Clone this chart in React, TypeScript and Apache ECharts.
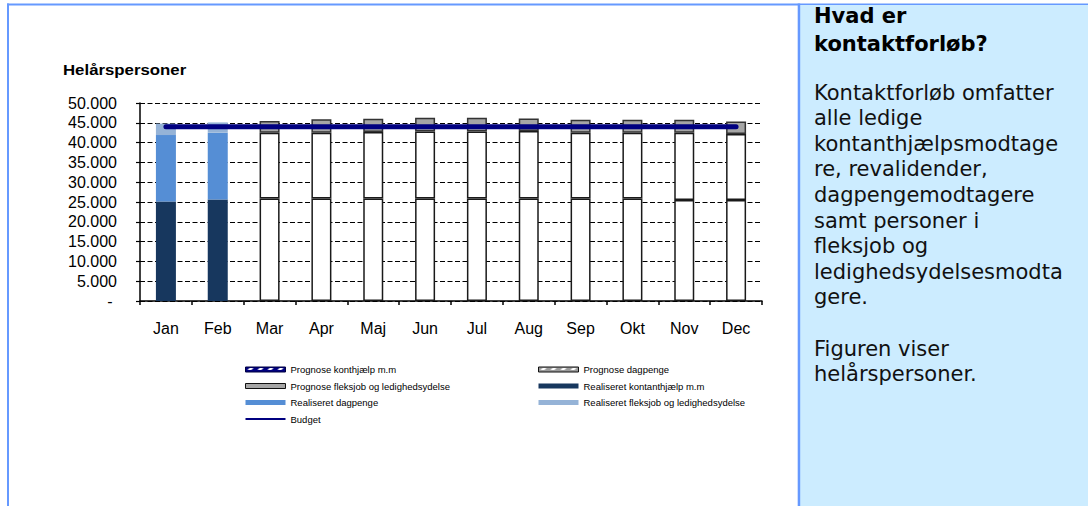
import React, { useEffect, useRef } from 'react';
import * as echarts from 'echarts';

const months = ['Jan', 'Feb', 'Mar', 'Apr', 'Maj', 'Jun', 'Jul', 'Aug', 'Sep', 'Okt', 'Nov', 'Dec'];

const realKontant = [25100, 25600, null, null, null, null, null, null, null, null, null, null];
const realDagpenge = [16800, 16900, null, null, null, null, null, null, null, null, null, null];
const realFleks = [2900, 2600, null, null, null, null, null, null, null, null, null, null];

const progKontant = [null, null, 25900, 25900, 25900, 25900, 25900, 25900, 25900, 25900, 25500, 25500];
const progDagpenge = [null, null, 16600, 16600, 16800, 16900, 16900, 17000, 16600, 16600, 17000, 16700];
const progFleks = [null, null, 2950, 3400, 3300, 3500, 3500, 3200, 3300, 3300, 3300, 3100];

const budget = [44000, 44000, 44000, 44000, 44000, 44000, 44000, 44000, 44000, 44000, 44000, 44000];

const yMin = 0;
const yMax = 50000;
const yStep = 5000;

const chartTitle = 'Helårspersoner';
const panelTitle = ['Hvad er', 'kontaktforløb?'];
const panelBody = [
  'Kontaktforløb omfatter',
  'alle ledige',
  'kontanthjælpsmodtage',
  're, revalidender,',
  'dagpengemodtagere',
  'samt personer i',
  'fleksjob og',
  'ledighedsydelsesmodta',
  'gere.',
  '',
  'Figuren viser',
  'helårspersoner.',
];

const N_PK = 'Prognose konthjælp m.m';
const N_PD = 'Prognose dagpenge';
const N_PF = 'Prognose fleksjob og ledighedsydelse';
const N_RK = 'Realiseret kontanthjælp m.m';
const N_RD = 'Realiseret dagpenge';
const N_RF = 'Realiseret fleksjob og ledighedsydelse';
const N_B = 'Budget';

const ARIAL = '"Liberation Sans", Arial, sans-serif';
const VERDANA = '"DejaVu Sans", Verdana, sans-serif';

function stripe(bg: string, fg: string) {
  const c = document.createElement('canvas');
  c.width = 10;
  c.height = 4;
  const g = c.getContext('2d')!;
  g.fillStyle = bg;
  g.fillRect(0, 0, 10, 4);
  g.fillStyle = fg;
  g.beginPath();
  g.moveTo(2, 3);
  g.lineTo(4, 1);
  g.lineTo(8, 1);
  g.lineTo(6, 3);
  g.closePath();
  g.fill();
  return { image: c, repeat: 'repeat' } as any;
}

function fmt(v: number) {
  if (v === 0) return '- ';
  return String(v).replace(/\B(?=(\d{3})+(?!\d))/g, '.');
}

export default function App() {
  const ref = useRef<HTMLDivElement>(null);

  useEffect(() => {
    if (!ref.current) return;
    const chart = echarts.init(ref.current, null, { renderer: 'svg' });

    const legendText = { fontSize: 9.5, fontFamily: ARIAL, color: '#000', lineHeight: 11 };
    const legendBase = {
      orient: 'vertical' as const,
      top: 364,
      itemWidth: 40,
      itemHeight: 5,
      itemGap: 5.5,
      selectedMode: false,
      textStyle: legendText,
      padding: 0,
    };

    const graphics: any[] = [
      { type: 'rect', shape: { x: 7, y: 3.5, width: 1081, height: 2 }, style: { fill: '#6699FF' } },
      { type: 'rect', shape: { x: 7, y: 3.5, width: 2, height: 503 }, style: { fill: '#6699FF' } },
      { type: 'rect', shape: { x: 800, y: 5, width: 288, height: 501 }, style: { fill: '#CCECFF' } },
      { type: 'rect', shape: { x: 797.7, y: 3.5, width: 2.5, height: 503 }, style: { fill: '#6699FF' } },
      {
        type: 'text',
        x: 63,
        y: 70,
        scaleX: 1.2,
        style: { text: chartTitle, font: `bold 14px ${ARIAL}`, fill: '#000', textVerticalAlign: 'middle' },
      },
    ];
    panelTitle.forEach((t, i) => {
      graphics.push({
        type: 'text',
        x: 814,
        y: 16 + i * 28,
        style: { text: t, font: `bold 21px ${VERDANA}`, fill: '#000', textVerticalAlign: 'middle' },
      });
    });
    panelBody.forEach((t, i) => {
      if (!t) return;
      graphics.push({
        type: 'text',
        x: 814,
        y: 92.5 + i * 25.6,
        style: { text: t, font: `21px ${VERDANA}`, fill: '#111', textVerticalAlign: 'middle' },
      });
    });

    const progBorder = { color: '#fff', borderColor: '#1a1a1a', borderWidth: 1.5 };

    chart.setOption({
      animation: false,
      backgroundColor: '#fff',
      grid: { left: 140, right: 326, top: 103, bottom: 205, containLabel: false },
      xAxis: {
        type: 'category',
        data: months,
        axisLine: { lineStyle: { color: '#000', width: 1.5 } },
        axisTick: { show: true, length: 4, lineStyle: { color: '#000', width: 1.5 } },
        axisLabel: { fontSize: 16, color: '#000', margin: 19, fontFamily: ARIAL },
        splitLine: { show: false },
      },
      yAxis: {
        type: 'value',
        min: yMin,
        max: yMax,
        interval: yStep,
        axisLine: { show: true, lineStyle: { color: '#000', width: 1.5 } },
        axisTick: { show: true, length: 4, lineStyle: { color: '#000', width: 1.2 } },
        axisLabel: { fontSize: 16, color: '#000', margin: 23, fontFamily: ARIAL, formatter: fmt },
        splitLine: { show: true, lineStyle: { color: '#000', width: 1, type: [5, 2.5] } },
      },
      legend: [
        {
          ...legendBase,
          left: 245,
          data: [
            { name: N_PK, icon: 'rect', itemStyle: { color: stripe('#000080', '#ffffff'), borderColor: '#000040', borderWidth: 1 } },
            { name: N_PF, icon: 'rect', itemStyle: { color: '#A6A6A6', borderColor: '#111', borderWidth: 1 } },
            { name: N_RD, icon: 'rect', itemStyle: { color: '#558ED5', borderWidth: 0 } },
            { name: N_B, icon: 'path://M0,0L40,0L40,2L0,2Z', itemStyle: { color: '#000080', borderWidth: 0 } },
          ],
        },
        {
          ...legendBase,
          left: 538,
          data: [
            { name: N_PD, icon: 'rect', itemStyle: { color: stripe('#9a9a9a', '#ffffff'), borderColor: '#111', borderWidth: 1 } },
            { name: N_RK, icon: 'rect', itemStyle: { color: '#17375E', borderWidth: 0 } },
            { name: N_RF, icon: 'rect', itemStyle: { color: '#95B3D7', borderWidth: 0 } },
          ],
        },
      ],
      graphic: { elements: graphics },
      series: [
        { name: N_RK, type: 'bar', stack: 'total', barWidth: 20, data: realKontant, itemStyle: { color: '#17375E' } },
        { name: N_PK, type: 'bar', stack: 'total', barWidth: 20, data: progKontant, itemStyle: progBorder },
        { name: N_RD, type: 'bar', stack: 'total', barWidth: 20, data: realDagpenge, itemStyle: { color: '#558ED5' } },
        { name: N_PD, type: 'bar', stack: 'total', barWidth: 20, data: progDagpenge, itemStyle: progBorder },
        { name: N_RF, type: 'bar', stack: 'total', barWidth: 20, data: realFleks, itemStyle: { color: '#95B3D7' } },
        {
          name: N_PF,
          type: 'bar',
          stack: 'total',
          barWidth: 20,
          data: progFleks,
          itemStyle: { color: '#A6A6A6', borderColor: '#333', borderWidth: 1.5 },
        },
        {
          name: N_B,
          type: 'line',
          data: budget,
          symbol: 'none',
          z: 10,
          itemStyle: { color: '#000080' },
          lineStyle: { color: '#000080', width: 5, cap: 'round' },
        },
      ],
    });

    return () => chart.dispose();
  }, []);

  return <div ref={ref} style={{ position: 'fixed', left: 0, top: 0, width: 1088, height: 506 }} />;
}
